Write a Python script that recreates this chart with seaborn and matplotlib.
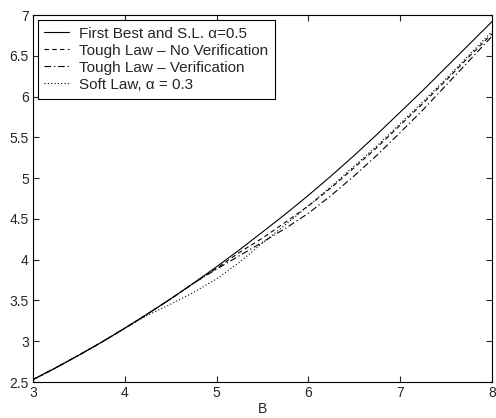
import pandas as pd
import matplotlib
matplotlib.use('Agg')
import matplotlib.pyplot as plt
import seaborn as sns

# Data
B = [3.0, 3.25, 3.5, 3.75, 4.0, 4.25, 4.5, 4.75, 5.0, 5.25, 5.5,
     5.75, 6.0, 6.25, 6.5, 6.75, 7.0, 7.25, 7.5, 7.75, 8.0]
first_best = [2.53, 2.676, 2.83, 2.99, 3.16, 3.337, 3.52, 3.714, 3.914, 4.122, 4.34,
              4.56, 4.79, 5.03, 5.28, 5.54, 5.81, 6.08, 6.36, 6.64, 6.92]
no_verif = [2.53, 2.676, 2.83, 2.99, 3.16, 3.337, 3.52, 3.712, 3.895, 4.09, 4.265,
            4.46, 4.66, 4.885, 5.13, 5.38, 5.65, 5.92, 6.2, 6.49, 6.77]
verif = [2.53, 2.676, 2.83, 2.99, 3.16, 3.337, 3.52, 3.712, 3.885, 4.05, 4.215,
         4.385, 4.57, 4.79, 5.03, 5.285, 5.56, 5.84, 6.14, 6.44, 6.74]
soft = [2.53, 2.676, 2.83, 2.99, 3.16, 3.32, 3.455, 3.6, 3.765, 3.97, 4.205,
        4.43, 4.66, 4.9, 5.15, 5.4, 5.67, 5.94, 6.22, 6.51, 6.8]

labels = ["First Best and S.L. \u03b1=0.5",
          "Tough Law \u2013 No Verification",
          "Tough Law \u2013 Verification",
          "Soft Law, \u03b1 = 0.3"]
series = [first_best, no_verif, verif, soft]
styles = ['-', (0, (4, 3)), (0, (6, 2.5, 1.2, 2.5)), (0, (1, 2))]

sns.set_style("ticks")
plt.rcParams['font.family'] = ['Liberation Sans', 'DejaVu Sans']
plt.rcParams['xtick.direction'] = 'in'
plt.rcParams['ytick.direction'] = 'in'

fig = plt.figure(figsize=(4.96, 4.18), dpi=100)
ax = fig.add_axes([0.0665, 0.086, 0.9255, 0.878])

for vals, lab, ls in zip(series, labels, styles):
    df = pd.DataFrame({"B": B, "val": vals})
    sns.lineplot(data=df, x="B", y="val", ax=ax, color="black",
                 linewidth=0.8, linestyle=ls, label=lab)

ax.set_xlim(3, 8)
ax.set_ylim(2.5, 7)
ax.set_xticks([3, 4, 5, 6, 7, 8])
ax.set_yticks([2.5, 3, 3.5, 4, 4.5, 5, 5.5, 6, 6.5, 7])
ax.set_yticklabels(["2.5", "3", "3.5", "4", "4.5", "5", "5.5", "6", "6.5", "7"])
ax.tick_params(labelsize=10, length=4, width=0.8, top=True, right=True, pad=3)
for s in ax.spines.values():
    s.set_linewidth(0.8)
    s.set_color("black")
ax.set_xlabel("B", fontsize=10, labelpad=1)
ax.set_ylabel("")

leg = ax.legend(loc="upper left", fontsize=11, frameon=True, fancybox=False,
                edgecolor="black", handlelength=1.6, borderaxespad=0.3,
                borderpad=0.45, labelspacing=0.2, handletextpad=0.65)
leg.get_frame().set_linewidth(0.8)
leg.get_frame().set_alpha(1)

plt.savefig("out.png", dpi=100)
plt.close()
